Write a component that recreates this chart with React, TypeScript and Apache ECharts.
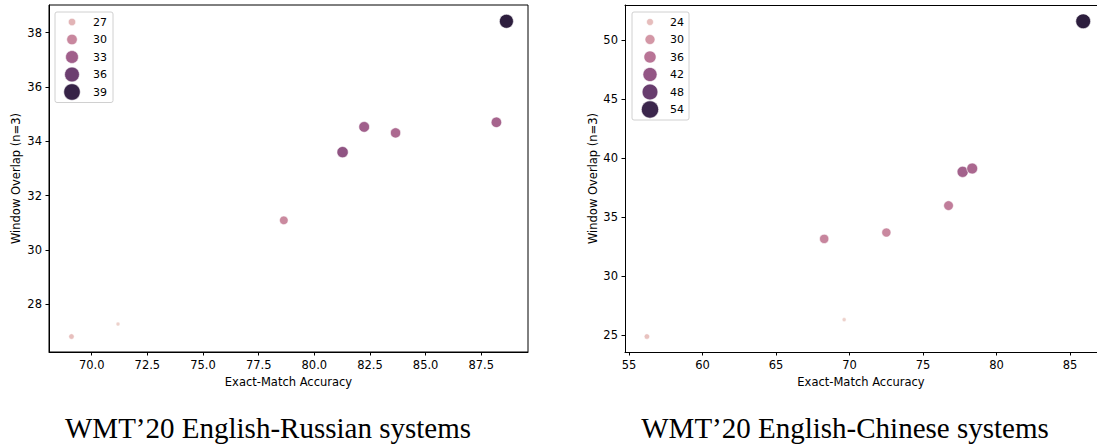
import React, { useEffect, useRef } from "react";
import * as echarts from "echarts";

// ---- WMT'20 English-Russian ----
const ruAccuracy = [69.09, 71.18, 78.63, 81.27, 82.24, 83.65, 88.18, 88.63];
const ruOverlap = [26.81, 27.27, 31.09, 33.6, 34.53, 34.31, 34.7, 38.42];
const ruScore = [26.3, 25.2, 29.8, 34.0, 33.0, 32.2, 32.6, 39.5];
const ruLegendLevels = [27, 30, 33, 36, 39];
const ruXTicks = [70, 72.5, 75, 77.5, 80, 82.5, 85, 87.5];
const ruYTicks = [28, 30, 32, 34, 36, 38];

// ---- WMT'20 English-Chinese ----
const zhAccuracy = [56.21, 68.27, 69.63, 72.5, 76.73, 77.69, 78.34, 85.89];
const zhOverlap = [24.89, 33.16, 26.32, 33.7, 35.98, 38.84, 39.12, 51.59];
const zhScore = [23.3, 33.0, 21.0, 32.5, 34.4, 39.5, 38.5, 56.0];
const zhLegendLevels = [24, 30, 36, 42, 48, 54];
const zhXTicks = [55, 60, 65, 70, 75, 80, 85];
const zhYTicks = [25, 30, 35, 40, 45, 50];

const titles = ["WMT\u201920 English-Russian systems", "WMT\u201920 English-Chinese systems"];
const xName = "Exact-Match Accuracy";
const yName = "Window Overlap (n=3)";

const FONT = "DejaVu Sans";
const AXIS_FS = 11.5;

function cubehelix(x: number): string {
  const start = 0, rot = 0.4, gamma = 1, hue = 0.8;
  const xg = Math.pow(x, gamma);
  const a = (hue * xg * (1 - xg)) / 2;
  const phi = 2 * Math.PI * (start / 3 + rot * x);
  const f = (p0: number, p1: number) =>
    Math.round(255 * Math.min(1, Math.max(0, xg + a * (p0 * Math.cos(phi) + p1 * Math.sin(phi)))));
  const r = f(-0.14861, 1.78277);
  const g = f(-0.29227, -0.90649);
  const b = f(1.97294, 0.0);
  return `rgb(${r},${g},${b})`;
}

function makeScale(scores: number[], dmin: number, dmax: number) {
  const lo = Math.min(...scores);
  const hi = Math.max(...scores);
  const tOf = (s: number) => Math.min(1, Math.max(0, (s - lo) / (hi - lo)));
  return {
    color: (s: number) => cubehelix(0.85 - 0.7 * tOf(s)),
    size: (s: number) => {
      const t = tOf(s);
      return Math.sqrt(dmin * dmin + (dmax * dmax - dmin * dmin) * t);
    },
  };
}

const ruScale = makeScale(ruScore, 4.1, 14);
const zhScale = makeScale(zhScore, 4.1, 14.8);

function legendGraphics(
  levels: number[],
  scale: { color: (s: number) => string; size: (s: number) => number },
  box: { x: number; y: number; w: number },
  cx: number,
  textX: number
) {
  const step = 17.5;
  const h = levels.length * step + 3;
  const els: any[] = [
    {
      type: "rect",
      shape: { x: box.x, y: box.y, width: box.w, height: h, r: 2 },
      style: { fill: "rgba(255,255,255,0.85)", stroke: "#d0d0d0", lineWidth: 1 },
      z: 100,
    },
  ];
  levels.forEach((lv, i) => {
    const cy = box.y + 10 + i * step;
    const d = scale.size(lv) * 1.2;
    els.push({
      type: "circle",
      shape: { cx, cy, r: d / 2 },
      style: { fill: scale.color(lv), stroke: "#fff", lineWidth: 0.6 },
      z: 101,
    });
    els.push({
      type: "text",
      x: textX,
      y: cy,
      style: {
        text: String(lv),
        font: `11px '${FONT}'`,
        fill: "#000",
        textAlign: "left",
        textVerticalAlign: "middle",
      },
      z: 101,
    });
  });
  return els;
}

function axisCommon(ticks: number[], fmt: (v: number) => string, margin: number) {
  return {
    type: "value" as const,
    axisLine: { show: true, onZero: false, lineStyle: { color: "#000", width: 1 } },
    axisTick: { show: true, length: 3.5, inside: false, customValues: ticks, lineStyle: { color: "#000", width: 1 } },
    axisLabel: {
      customValues: ticks,
      formatter: fmt,
      fontFamily: FONT,
      fontSize: AXIS_FS,
      color: "#000",
      margin,
    },
    splitLine: { show: false },
    nameTextStyle: { fontFamily: FONT, fontSize: AXIS_FS, color: "#000" },
  };
}

const ZH_XMIN = 54.72;
const ZH_XMAX = 86.83;

export default function App() {
  const ref = useRef<HTMLDivElement>(null);
  useEffect(() => {
    if (!ref.current) return;
    const chart = echarts.init(ref.current, undefined, { renderer: "svg" });
    const ruData = ruAccuracy.map((x, i) => [x, ruOverlap[i], ruScore[i]]);
    const zhData = zhAccuracy.map((x, i) => [x, zhOverlap[i], zhScore[i]]);

    const option: any = {
      animation: false,
      backgroundColor: "#fff",
      grid: [
        { left: 49, top: 5, width: 479, height: 347, show: true, borderColor: "#000", borderWidth: 1, backgroundColor: "transparent" },
        { left: 625, top: 5, width: 472, height: 347, show: false },
      ],
      xAxis: [
        {
          ...axisCommon(ruXTicks, (v: number) => v.toFixed(1), 7),
          gridIndex: 0,
          min: 68.08,
          max: 89.6,
          name: xName,
          nameLocation: "middle",
          nameGap: 23,
        },
        {
          ...axisCommon(zhXTicks, (v: number) => String(v), 7),
          gridIndex: 1,
          min: ZH_XMIN,
          max: ZH_XMAX,
          name: xName,
          nameLocation: "middle",
          nameGap: 23,
        },
        {
          type: "value",
          gridIndex: 1,
          position: "top",
          min: ZH_XMIN,
          max: ZH_XMAX,
          axisLine: { show: true, onZero: false, lineStyle: { color: "#000", width: 1 } },
          axisTick: { show: false },
          axisLabel: { show: false },
          splitLine: { show: false },
        },
      ],
      yAxis: [
        {
          ...axisCommon(ruYTicks, (v: number) => String(v), 7),
          gridIndex: 0,
          min: 26.24,
          max: 39.02,
          name: yName,
          nameLocation: "middle",
          nameGap: 27,
        },
        {
          ...axisCommon(zhYTicks, (v: number) => String(v), 7),
          gridIndex: 1,
          min: 23.58,
          max: 52.97,
          name: yName,
          nameLocation: "middle",
          nameGap: 26,
        },
      ],
      series: [
        {
          type: "scatter",
          xAxisIndex: 0,
          yAxisIndex: 0,
          data: ruData,
          symbolSize: (v: number[]) => ruScale.size(v[2]),
          itemStyle: {
            color: (p: any) => ruScale.color(p.value[2]),
            borderColor: "#fff",
            borderWidth: 0.6,
            opacity: 1,
          },
          emphasis: { disabled: true },
        },
        {
          type: "scatter",
          xAxisIndex: 1,
          yAxisIndex: 1,
          data: zhData,
          symbolSize: (v: number[]) => zhScale.size(v[2]),
          itemStyle: {
            color: (p: any) => zhScale.color(p.value[2]),
            borderColor: "#fff",
            borderWidth: 0.6,
            opacity: 1,
          },
          emphasis: { disabled: true },
        },
      ],
      graphic: [
        ...legendGraphics(ruLegendLevels, ruScale, { x: 55, y: 12, w: 58 }, 72, 93),
        ...legendGraphics(zhLegendLevels, zhScale, { x: 632, y: 12, w: 57 }, 650, 670),
        {
          type: "text",
          x: 268,
          y: 428,
          style: {
            text: titles[0],
            font: "29px 'Liberation Serif'",
            fill: "#000",
            textAlign: "center",
            textVerticalAlign: "middle",
          },
        },
        {
          type: "text",
          x: 845,
          y: 428,
          style: {
            text: titles[1],
            font: "29px 'Liberation Serif'",
            fill: "#000",
            textAlign: "center",
            textVerticalAlign: "middle",
          },
        },
      ],
    };
    chart.setOption(option);
    return () => chart.dispose();
  }, []);
  return (
    <div
      ref={ref}
      style={{ position: "absolute", left: 0, top: 0, width: 1097, height: 444 }}
    />
  );
}
